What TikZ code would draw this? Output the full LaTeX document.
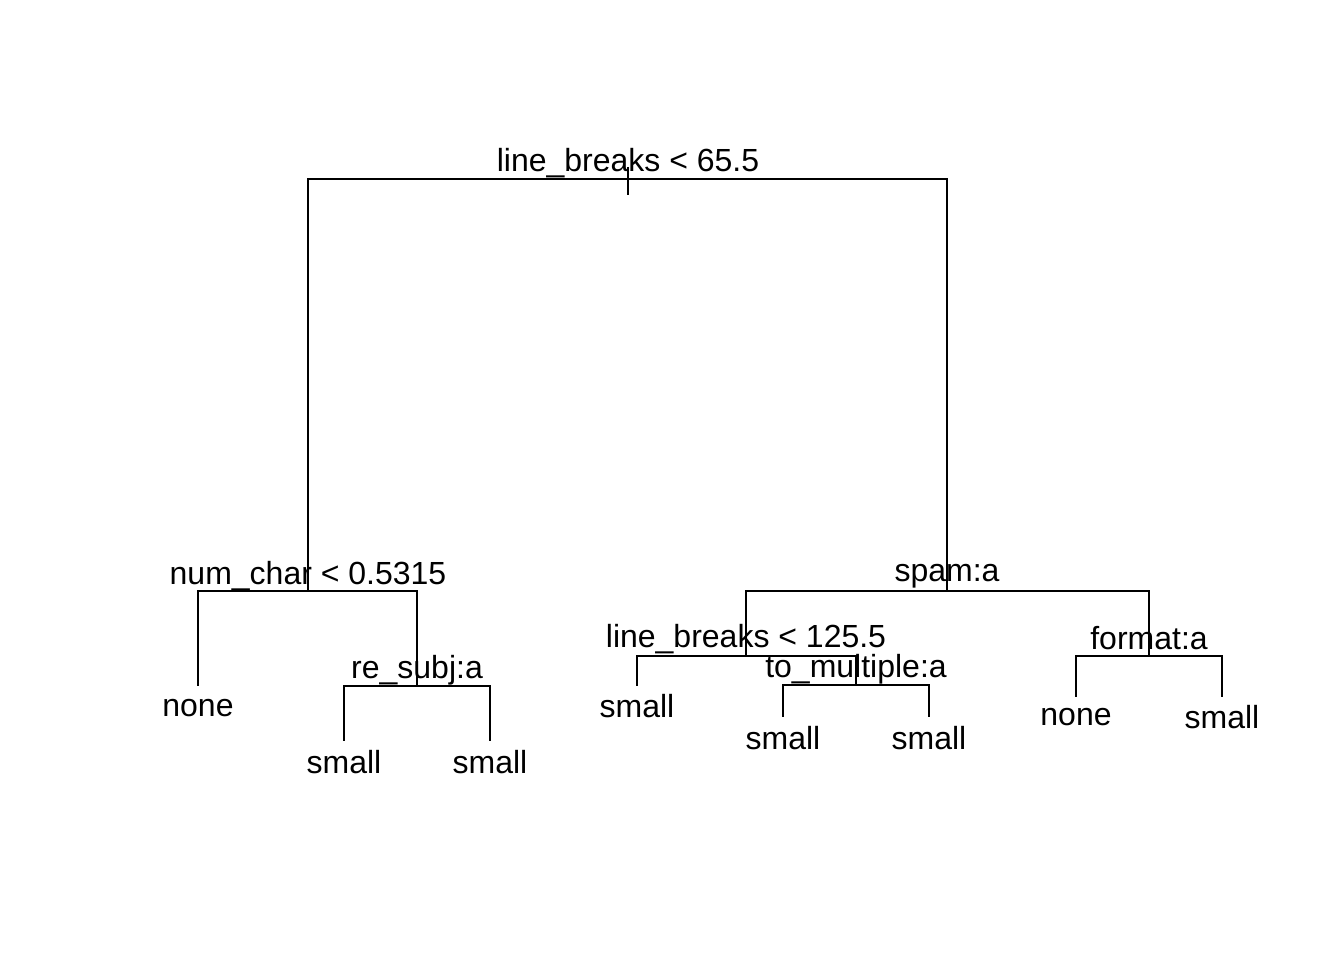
\documentclass[tikz,border=0pt]{standalone}
\usepackage{fontspec}
\setmainfont{Liberation Sans}
\begin{document}
\begin{tikzpicture}[x=1pt,y=-1pt,
  edge/.style={line width=2pt,line cap=butt},
  lab/.style={anchor=base,inner sep=0pt,yshift=-1.5pt,font=\fontsize{32}{38}\selectfont}]
\useasboundingbox (0,0) rectangle (1344,960);
% split points
\coordinate (rtop) at (628,167);
\coordinate (rbot) at (628,195);
\coordinate (r) at (628,179);
\coordinate (nc) at (308,591);
\coordinate (n1) at (198,686);
\coordinate (rs) at (417,686);
\coordinate (rs1) at (344,741);
\coordinate (rs2) at (490,741);
\coordinate (sp) at (947,591);
\coordinate (lb) at (746,656);
\coordinate (lb1) at (637,686);
\coordinate (tm) at (856,685);
\coordinate (tm1) at (783,717);
\coordinate (tm2) at (929,717);
\coordinate (fm) at (1149,656);
\coordinate (fm1) at (1076,697);
\coordinate (fm2) at (1222,697);
% edges
\draw[edge] (rtop) -- (rbot);
\draw[edge] (r) -| (nc);
\draw[edge] (r) -| (sp);
\draw[edge] (nc) -| (n1);
\draw[edge] (nc) -| (rs);
\draw[edge] (rs) -| (rs1);
\draw[edge] (rs) -| (rs2);
\draw[edge] (sp) -| (lb);
\draw[edge] (sp) -| (fm);
\draw[edge] (lb) -| (lb1);
\draw[edge] (lb) -| (tm);
\draw[edge] (tm) -| (tm1);
\draw[edge] (tm) -| (tm2);
\draw[edge] (fm) -| (fm1);
\draw[edge] (fm) -| (fm2);
% labels
\node[lab] (t-r) at (628,170) {line\_breaks < 65.5};
\node[lab] (t-nc) at (308,583) {num\_char < 0.5315};
\node[lab] (t-n1) at (198,715) {none};
\node[lab] (t-rs) at (417,677) {re\_subj:a};
\node[lab] (t-rs1) at (344,772) {small};
\node[lab] (t-rs2) at (490,772) {small};
\node[lab] (t-sp) at (947,580) {spam:a};
\node[lab] (t-lb) at (746,646) {line\_breaks < 125.5};
\node[lab] (t-lb1) at (637,716) {small};
\node[lab] (t-tm) at (856,676) {to\_multiple:a};
\node[lab] (t-tm1) at (783,748) {small};
\node[lab] (t-tm2) at (929,748) {small};
\node[lab] (t-fm) at (1149,648) {format:a};
\node[lab] (t-fm1) at (1076,724) {none};
\node[lab] (t-fm2) at (1222,727) {small};
\end{tikzpicture}
\end{document}
